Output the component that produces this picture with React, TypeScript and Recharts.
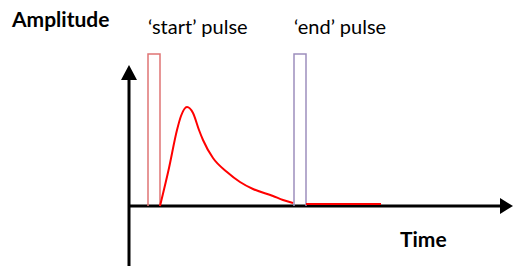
import {
  ComposedChart,
  Line,
  XAxis,
  YAxis,
  ReferenceLine,
  ReferenceDot,
} from "recharts";

// detector response after the start pulse (time, amplitude)
const responseTime = [31, 40, 48, 52, 58, 64, 70, 74, 84, 98, 111, 124, 144, 154, 164];
const responseAmp = [0, 38, 76, 90, 99, 93, 76, 66, 48, 34, 24, 17, 10, 6, 3];

// flat tail after the end pulse
const tailTime = [177, 252];
const tailAmp = [2, 2];

// pulse outlines
const startPulseTime = [19, 19, 31, 31];
const endPulseTime = [165, 165, 177, 177];
const pulseAmp = [0, 152, 152, 0];

const labels = {
  yAxis: "Amplitude",
  xAxis: "Time",
  start: "\u2018start\u2019 pulse",
  end: "\u2018end\u2019 pulse",
};

const response = responseTime.map((t, i) => ({ t, a: responseAmp[i] }));
const tail = tailTime.map((t, i) => ({ t, a: tailAmp[i] }));
const startPulse = startPulseTime.map((t, i) => ({ t, a: pulseAmp[i] }));
const endPulse = endPulseTime.map((t, i) => ({ t, a: pulseAmp[i] }));

const upArrow = (props: any) => {
  const { cx, cy } = props;
  return <polygon points={`${cx},${cy} ${cx - 8},${cy + 15} ${cx + 8},${cy + 15}`} fill="#000" />;
};

const rightArrow = (props: any) => {
  const { cx, cy } = props;
  return <polygon points={`${cx},${cy} ${cx - 13},${cy - 8} ${cx - 13},${cy + 8}`} fill="#000" />;
};

const textBase = {
  position: "absolute" as const,
  fontFamily: "Lato, 'Open Sans', sans-serif",
  color: "#000",
  whiteSpace: "nowrap" as const,
  lineHeight: 1,
};

const lineProps = {
  dataKey: "a",
  dot: false,
  activeDot: false,
  isAnimationActive: false,
};

export default function App() {
  return (
    <div style={{ position: "absolute", left: 0, top: 0, width: 515, height: 266, background: "#fff" }}>
      <ComposedChart width={515} height={266} margin={{ top: 0, right: 0, bottom: 0, left: 0 }}>
        <XAxis type="number" dataKey="t" domain={[-129, 386]} hide allowDataOverflow />
        <YAxis type="number" dataKey="a" domain={[-60, 206]} hide allowDataOverflow />
        <ReferenceLine
          segment={[{ x: 0, y: -60 }, { x: 0, y: 128 }]}
          stroke="#000"
          strokeWidth={3}
        />
        <ReferenceLine
          segment={[{ x: 0, y: 0 }, { x: 373, y: 0 }]}
          stroke="#000"
          strokeWidth={3}
        />
        <ReferenceDot x={0} y={141} r={0} shape={upArrow} />
        <ReferenceDot x={384} y={0} r={0} shape={rightArrow} />
        <Line {...lineProps} data={startPulse} type="linear" stroke="#e07474" strokeWidth={1.5} />
        <Line {...lineProps} data={endPulse} type="linear" stroke="#9d8fbd" strokeWidth={1.5} />
        <Line {...lineProps} data={response} type="monotone" stroke="#ff0000" strokeWidth={2} />
        <Line {...lineProps} data={tail} type="linear" stroke="#ff0000" strokeWidth={2} />
      </ComposedChart>
      <div style={{ ...textBase, left: 12, top: 8, fontSize: 21, fontWeight: 700 }}>{labels.yAxis}</div>
      <div style={{ ...textBase, left: 148, top: 16, fontSize: 20 }}>{labels.start}</div>
      <div style={{ ...textBase, left: 294, top: 16, fontSize: 20 }}>{labels.end}</div>
      <div style={{ ...textBase, left: 400, top: 228, fontSize: 21, fontWeight: 700 }}>{labels.xAxis}</div>
    </div>
  );
}
